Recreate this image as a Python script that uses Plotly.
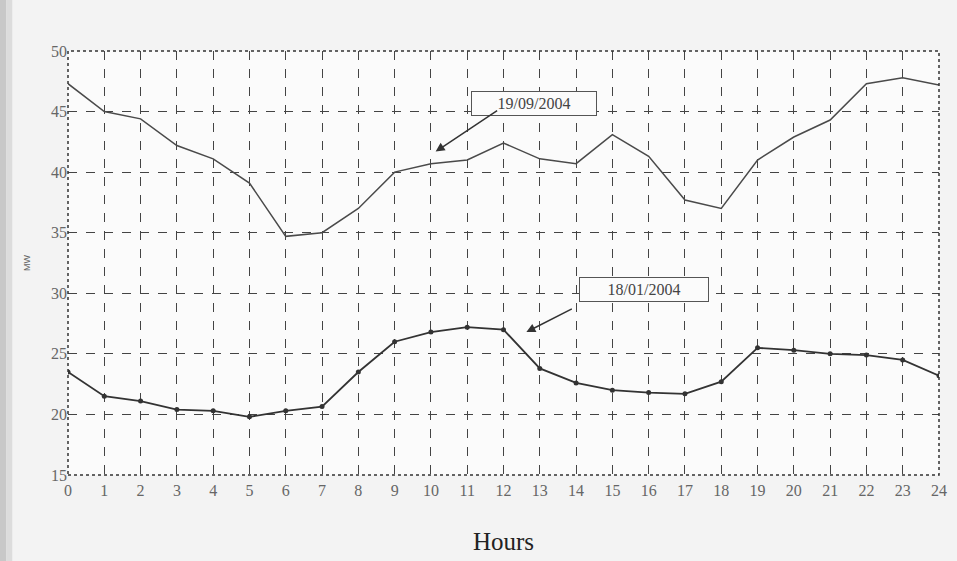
import plotly.graph_objects as go

hours = list(range(25))
tick_labels = [str(h) for h in hours]
sep_2004 = [47.3, 45.0, 44.4, 42.2, 41.1, 39.1, 34.7, 35.0, 37.0, 40.0, 40.7, 41.0,
            42.4, 41.1, 40.7, 43.1, 41.3, 37.7, 37.0, 41.0, 42.9, 44.3, 47.3, 47.8, 47.2]
jan_2004 = [23.5, 21.5, 21.1, 20.4, 20.3, 19.8, 20.3, 20.65, 23.5, 26.0, 26.8, 27.2,
            27.0, 23.8, 22.6, 22.0, 21.8, 21.7, 22.7, 25.5, 25.3, 25.0, 24.9, 24.5, 23.2]
y_ticks = [15, 20, 25, 30, 35, 40, 45, 50]

fig = go.Figure()
fig.add_trace(go.Scatter(x=hours, y=sep_2004, mode="lines",
                         line=dict(color="#4a4a4a", width=1.5), name="19/09/2004"))
fig.add_trace(go.Scatter(x=hours, y=jan_2004, mode="lines+markers",
                         line=dict(color="#333333", width=1.8),
                         marker=dict(size=5, color="#333333"), name="18/01/2004"))

# plot border (dotted)
fig.add_shape(type="rect", xref="x domain", yref="y domain", x0=0, x1=1, y0=0, y1=1,
              line=dict(color="#333333", width=1.5, dash="dot"))
# scan shading strip at left edge
fig.add_shape(type="rect", xref="paper", yref="paper", x0=-0.08, x1=-0.071, y0=-0.25, y1=1.25,
              fillcolor="#c8c8c8", line=dict(width=0), layer="below")
fig.add_shape(type="rect", xref="paper", yref="paper", x0=-0.071, x1=-0.064, y0=-0.25, y1=1.25,
              fillcolor="#dcdcdc", line=dict(width=0), layer="below")

ann_font = dict(family="Liberation Serif", size=16, color="#444444")
fig.add_annotation(x=12.85, y=45.7, text="19/09/2004", showarrow=False, font=ann_font,
                   bordercolor="#555555", borderwidth=1, borderpad=3, bgcolor="#fbfbfb",
                   width=118)
fig.add_annotation(x=10.13, y=41.7, text="", showarrow=True, ax=63, ay=-42,
                   arrowhead=2, arrowsize=1.2, arrowwidth=1.5, arrowcolor="#333333")
fig.add_annotation(x=15.87, y=30.3, text="18/01/2004", showarrow=False, font=ann_font,
                   bordercolor="#555555", borderwidth=1, borderpad=3, bgcolor="#fbfbfb",
                   width=122)
fig.add_annotation(x=12.63, y=26.8, text="", showarrow=True, ax=47, ay=-24,
                   arrowhead=2, arrowsize=1.2, arrowwidth=1.5, arrowcolor="#333333")

fig.update_layout(
    width=957, height=561,
    margin=dict(l=68, r=10, t=51, b=86),
    paper_bgcolor="#f3f3f3", plot_bgcolor="#fbfbfb",
    showlegend=False,
    font=dict(family="Liberation Serif", color="#555555"),
)
fig.update_xaxes(range=[0, 24], tickvals=hours, ticktext=tick_labels,
                 showgrid=True, gridcolor="#444444", gridwidth=1, griddash="dash",
                 zeroline=False, showline=False, ticks="", ticklabelstandoff=4,
                 tickfont=dict(size=16, color="#666666"),
                 title=dict(text="Hours", font=dict(size=25, color="#222222",
                                                    family="Liberation Serif"), standoff=34))
fig.update_yaxes(range=[15, 50], tickvals=y_ticks,
                 showgrid=True, gridcolor="#444444", gridwidth=1, griddash="dash",
                 zeroline=False, showline=False, ticks="",
                 tickfont=dict(size=16, color="#666666"),
                 title=dict(text="MW", font=dict(size=9, color="#666666",
                                                 family="Liberation Sans"), standoff=18))

fig.write_html("out.html")
